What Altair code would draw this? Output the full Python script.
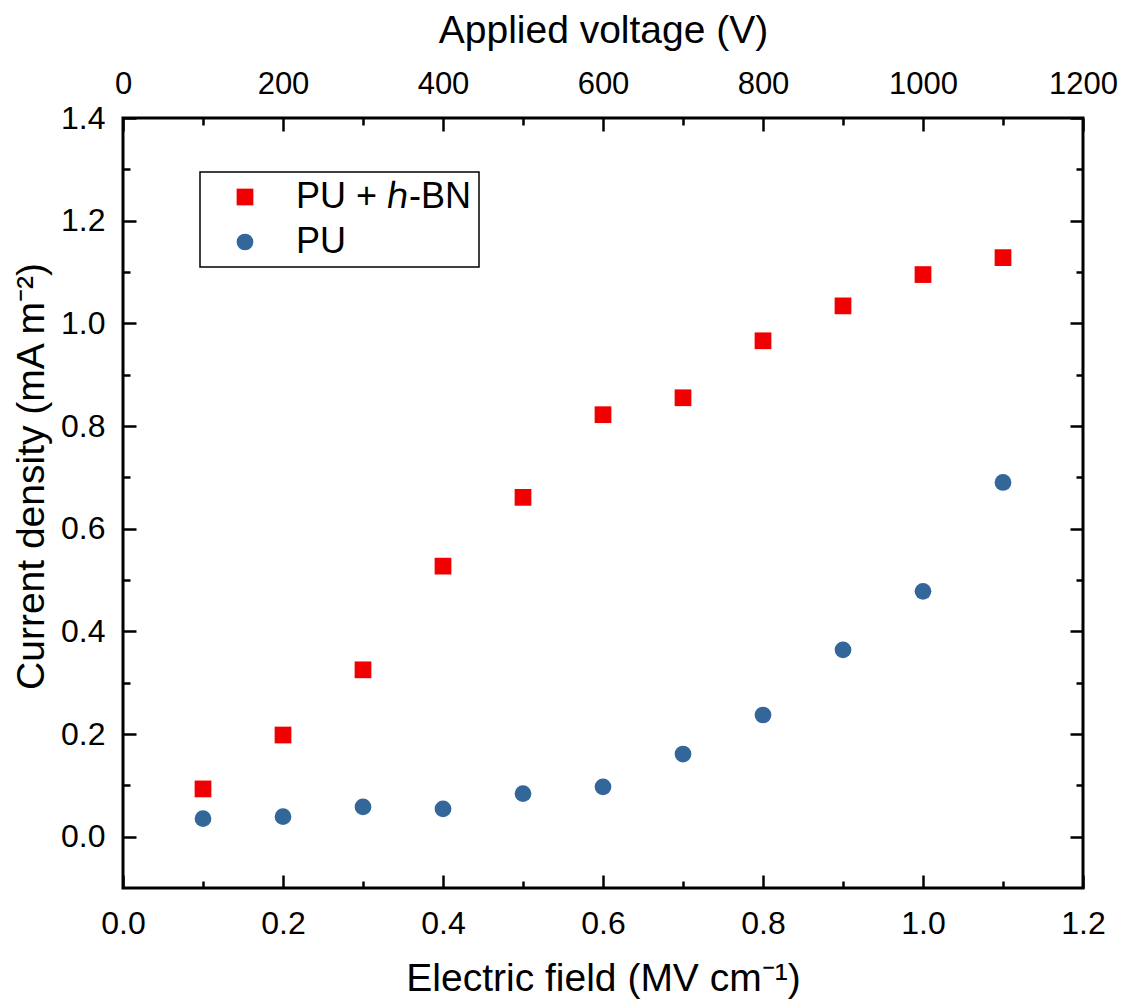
import altair as alt
import pandas as pd

# ---- data ----
field = [0.1, 0.2, 0.3, 0.4, 0.5, 0.6, 0.7, 0.8, 0.9, 1.0, 1.1]
pu_hbn = [0.093, 0.198, 0.325, 0.527, 0.661, 0.822, 0.855, 0.966, 1.034, 1.095, 1.128]
pu = [0.035, 0.039, 0.058, 0.054, 0.084, 0.097, 0.161, 0.237, 0.364, 0.478, 0.690]
series_names = ["PU + \u210e-BN", "PU"]
series_colors = ["#f00000", "#336699"]
series_shapes = ["square", "circle"]

x_major = [0.0, 0.2, 0.4, 0.6, 0.8, 1.0, 1.2]
x_minor = [0.1, 0.3, 0.5, 0.7, 0.9, 1.1]
y_major = [0.0, 0.2, 0.4, 0.6, 0.8, 1.0, 1.2, 1.4]
y_minor = [0.1, 0.3, 0.5, 0.7, 0.9, 1.1, 1.3]

df = pd.DataFrame({
    "E": field + field,
    "J": pu_hbn + pu,
    "series": [series_names[0]] * len(field) + [series_names[1]] * len(field),
})

FONT = "Liberation Sans"
W, H = 960, 770
MAJ, MIN = 13, 7

xs = alt.Scale(domain=[0, 1.2], nice=False, zero=False)
ys = alt.Scale(domain=[-0.1, 1.4], nice=False, zero=False)

base = alt.Chart(df)

legend = alt.Legend(
    orient="none", legendX=77, legendY=54, title=None,
    labelFont=FONT, labelFontSize=36, labelColor="black", labelLimit=400,
    padding=7, rowPadding=9, symbolOffset=20, labelOffset=33,
    strokeColor="black", fillColor="white",
    symbolSize=280, symbolStrokeWidth=0, symbolOpacity=1,
)


def tick_axis(orient, values, size):
    return alt.Axis(orient=orient, values=values, labels=False, domain=False,
                    ticks=True, tickSize=size, offset=-size, title=None,
                    grid=False, tickColor="black", tickWidth=2.5)


points = base.mark_point(filled=True, opacity=1, size=280, strokeWidth=0).encode(
    x=alt.X("E:Q", scale=xs, axis=alt.Axis(
        orient="bottom", values=x_major, format=".1f", ticks=False, domain=False,
        labelFlush=False, labelPadding=20,
        title="Electric field (MV cm\u207b\u00b9)", titleX=W / 2, titleY=71)),
    y=alt.Y("J:Q", scale=ys, axis=alt.Axis(
        orient="left", values=y_major, format=".1f", ticks=False, domain=False,
        labelFlush=False, labelPadding=18,
        title="Current density (mA m\u207b\u00b2)", titleX=-72, titleY=358)),
    color=alt.Color("series:N", scale=alt.Scale(domain=series_names, range=series_colors), legend=legend),
    shape=alt.Shape("series:N", scale=alt.Scale(domain=series_names, range=series_shapes), legend=legend),
)


def ghost(xaxis, yaxis):
    return base.mark_point(opacity=0).encode(
        x=alt.X("E:Q", scale=xs, axis=xaxis),
        y=alt.Y("J:Q", scale=ys, axis=yaxis),
    )


l1 = ghost(tick_axis("bottom", x_major, MAJ), tick_axis("right", y_major, MAJ))
l2 = ghost(tick_axis("bottom", x_minor, MIN), tick_axis("right", y_minor, MIN))
l3 = ghost(tick_axis("top", x_major, MAJ), tick_axis("left", y_major, MAJ))
l4 = ghost(tick_axis("top", x_minor, MIN), tick_axis("left", y_minor, MIN))
l5 = ghost(alt.Axis(orient="top", values=x_major, labelExpr="format(datum.value*1000, 'd')",
                    ticks=False, domain=False, labelFlush=False, labelPadding=18,
                    labelFontSize=31,
                    title="Applied voltage (V)", titleX=W / 2, titleY=-68), None)

chart = alt.layer(points, l1, l2, l3, l4, l5).resolve_axis(
    x="independent", y="independent"
).properties(
    width=W, height=H,
    autosize=alt.AutoSizeParams(type="none"),
    padding={"left": 115, "top": 110, "right": 36, "bottom": 111},
).configure_view(
    stroke="black", strokeWidth=3
).configure_legend(
    strokeWidth=1.5
).configure_axis(
    labelFont=FONT, titleFont=FONT, labelFontSize=32, titleFontSize=39,
    labelColor="black", titleColor="black", titleFontWeight="normal", grid=False,
)

chart.save("out.html", embed_options={"renderer": "svg", "actions": False})
